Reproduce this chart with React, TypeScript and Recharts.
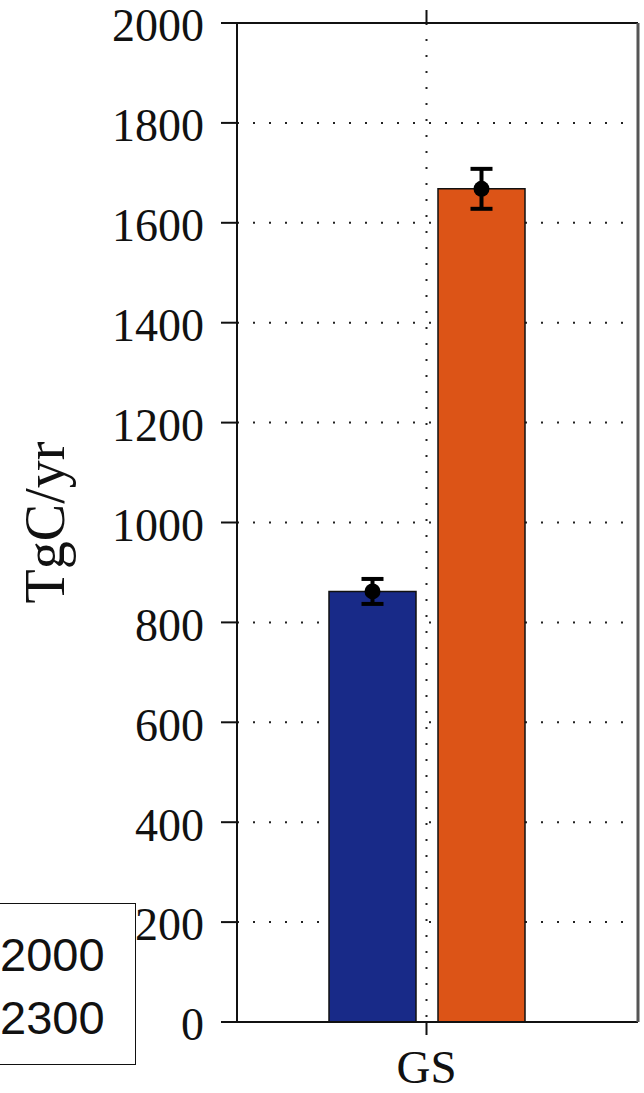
import { BarChart, Bar, XAxis, YAxis, CartesianGrid, Legend, ErrorBar, Rectangle } from "recharts";

// carbon flux by scenario year
const categories = ["GS"];
const years = ["2000", "2300"];
const fluxes = [862, 1668];
const errors = [25, 40];
const barColors = ["#182a88", "#dc5417"];
const yTicks = [0, 200, 400, 600, 800, 1000, 1200, 1400, 1600, 1800, 2000];

const data = categories.map((name) => {
    const row: Record<string, string | number> = { name };
    years.forEach((yr, i) => {
        row["v" + yr] = fluxes[i];
        row["e" + yr] = errors[i];
    });
    return row;
});

const serif = "'Liberation Serif', 'Times New Roman', serif";

const BarWithDot = (props: any) => {
    const { x, y, width, height, fill } = props;
    return (
        <g>
            <Rectangle x={x} y={y} width={width} height={height} fill={fill} stroke="#111" strokeWidth={1.5} />
            <circle cx={x + width / 2} cy={y} r={8} fill="#000" />
        </g>
    );
};

const LegendBox = () => (
    <div
        style={{
            width: 137,
            height: 162,
            boxSizing: "border-box",
            border: "1.5px solid #111",
            background: "#fff",
            overflow: "hidden",
            paddingTop: 19,
            paddingRight: 35,
            textAlign: "right",
            fontFamily: "'Liberation Sans', Arial, sans-serif",
            fontSize: 47,
            lineHeight: "63px",
            color: "#111",
        }}
    >
        {years.map((yr) => (
            <div key={yr}>{yr}</div>
        ))}
    </div>
);

const NoTick = () => <g />;

export default function App() {
    return (
        <div style={{ position: "absolute", left: 0, top: 0, background: "#fff" }}>
            <BarChart
                width={644}
                height={1093}
                data={data}
                margin={{ top: 22, right: 5, bottom: 0, left: 0 }}
                barSize={87}
                barGap={22}
            >
                <CartesianGrid stroke="#222" strokeWidth={2} strokeDasharray="2 14" />
                <XAxis
                    dataKey="name"
                    height={71}
                    padding={{ left: 0, right: 22 }}
                    axisLine={{ stroke: "#111", strokeWidth: 2 }}
                    tickLine={{ stroke: "#111", strokeWidth: 2 }}
                    tickSize={13}
                    tickMargin={15}
                    tick={{ fill: "#111", fontSize: 47, fontFamily: serif }}
                />
                <XAxis
                    xAxisId="top"
                    dataKey="name"
                    orientation="top"
                    height={1}
                    padding={{ left: 0, right: 22 }}
                    axisLine={{ stroke: "#111", strokeWidth: 2 }}
                    tickLine={{ stroke: "#111", strokeWidth: 2 }}
                    tickSize={13}
                    tick={<NoTick />}
                />
                <YAxis
                    width={237}
                    domain={[0, 2000]}
                    ticks={yTicks}
                    interval={0}
                    axisLine={{ stroke: "#111", strokeWidth: 2 }}
                    tickLine={{ stroke: "#111", strokeWidth: 2 }}
                    tickSize={16}
                    tickMargin={17}
                    tick={{ fill: "#111", fontSize: 46, fontFamily: serif, dy: 2 }}
                    label={({ viewBox }: any) => (
                        <text
                            x={45}
                            y={viewBox.y + viewBox.height / 2}
                            transform={`rotate(-90 45 ${viewBox.y + viewBox.height / 2})`}
                            textAnchor="middle"
                            dominantBaseline="central"
                            fill="#111"
                            fontSize={56}
                            fontFamily={serif}
                        >
                            TgC/yr
                        </text>
                    )}
                />
                <YAxis
                    yAxisId="frame"
                    orientation="right"
                    width={1}
                    domain={[0, 2000]}
                    axisLine={{ stroke: "#555", strokeWidth: 3 }}
                    tickLine={false}
                    tick={false}
                />
                <Legend
                    content={<LegendBox />}
                    verticalAlign="middle"
                    align="center"
                    wrapperStyle={{ left: -1, top: 903, width: 137 }}
                />
                {years.map((yr, i) => (
                    <Bar
                        key={yr}
                        dataKey={"v" + yr}
                        name={yr}
                        fill={barColors[i]}
                        shape={BarWithDot}
                        isAnimationActive={false}
                    >
                        <ErrorBar dataKey={"e" + yr} width={11} strokeWidth={4} stroke="#000" />
                    </Bar>
                ))}
            </BarChart>
        </div>
    );
}
